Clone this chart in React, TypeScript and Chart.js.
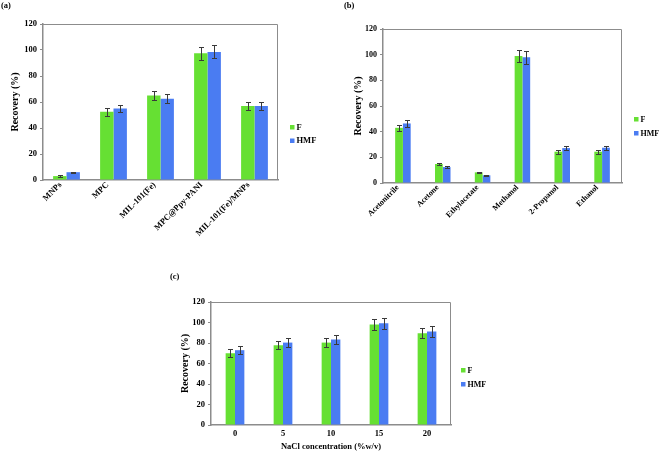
import React, { useEffect, useRef } from "react";
import { Chart, registerables } from "chart.js";
Chart.register(...registerables);

// ---------- data ----------
const catsA = ["MNPs", "MPC", "MIL-101(Fe)", "MPC@Ppy-PANI", "MIL-101(Fe)/MNPs"];
const fA = [3, 52.5, 65, 97.5, 57];
const hA = [6, 55, 62.5, 98.5, 57];
const fErrA = [0.5, 3, 3.5, 5, 3];
const hErrA = [0.5, 3, 3.5, 5, 3];

const catsB = ["Acetonitrile", "Acetone", "Ethylacetate", "Methanol", "2-Propanol", "Ethanol"];
const fB = [43, 14.8, 8.3, 99, 24.4, 24.4];
const hB = [46.4, 12.4, 6, 97.9, 27.2, 27.5];
const fErrB = [2.3, 1, 0.5, 5, 1.5, 1.5];
const hErrB = [2.6, 0.8, 0.4, 5, 1.7, 1.7];

const catsC = ["0", "5", "10", "15", "20"];
const fC = [70, 77.8, 80.4, 98, 89.5];
const hC = [73, 80.4, 83.4, 99.3, 91.1];
const fErrC = [4, 4, 4.3, 5, 5];
const hErrC = [4, 4, 4, 5.5, 5];

const seriesNames = ["F", "HMF"];
const yMin = 0;
const yMax = 120;
const yStep = 20;
const yTitle = "Recovery (%)";
const xTitleC = "NaCl concentration (%w/v)";

// ---------- styles ----------
const GREEN = "#66e033";
const BLUE = "#4a7cf2";
const AXIS = "#8c8c8c";
const FONT = "'Liberation Serif', 'Times New Roman', serif";

const overlay = {
  id: "overlay",
  afterDatasetsDraw(chart: any, _args: any, opts: any) {
    const { ctx, chartArea: a } = chart;
    const y = chart.scales.y;
    ctx.save();
    // top & right frame
    ctx.strokeStyle = AXIS;
    ctx.lineWidth = 1;
    ctx.beginPath();
    ctx.moveTo(a.left, Math.round(a.top) + 0.5);
    ctx.lineTo(Math.round(a.right) - 0.5, Math.round(a.top) + 0.5);
    ctx.lineTo(Math.round(a.right) - 0.5, a.bottom);
    ctx.stroke();
    // error bars
    ctx.strokeStyle = "#3a3a3a";
    ctx.lineWidth = 1;
    chart.data.datasets.forEach((ds: any, i: number) => {
      const meta = chart.getDatasetMeta(i);
      const errs = opts.errors[i];
      meta.data.forEach((bar: any, j: number) => {
        const v = ds.data[j];
        const e = errs[j];
        const x = Math.round(bar.x) + 0.5;
        const yt = Math.round(y.getPixelForValue(v + e)) + 0.5;
        const yb = Math.round(y.getPixelForValue(v - e)) + 0.5;
        const c = opts.cap;
        ctx.beginPath();
        ctx.moveTo(x, yt);
        ctx.lineTo(x, yb);
        ctx.moveTo(x - c, yt);
        ctx.lineTo(x + c, yt);
        ctx.moveTo(x - c, yb);
        ctx.lineTo(x + c, yb);
        ctx.stroke();
      });
    });
    // legend
    ctx.font = `bold ${opts.legendFont}px ${FONT}`;
    ctx.textBaseline = "middle";
    ctx.textAlign = "left";
    chart.data.datasets.forEach((ds: any, i: number) => {
      const ly = opts.legendY + i * opts.legendGap;
      ctx.fillStyle = ds.backgroundColor;
      ctx.fillRect(opts.legendX, ly - 2, 4.5, 4.5);
      ctx.fillStyle = "#000";
      ctx.fillText(ds.label, opts.legendX + 6.5, ly + 0.5);
    });
    // panel label
    ctx.font = `bold 8.5px ${FONT}`;
    ctx.fillText(opts.panel, opts.panelX, opts.panelY);
    ctx.restore();
  },
};

type Spec = {
  x: number; y: number; w: number; h: number;
  left: number; right: number; top: number; bottom: number;
  cats: string[]; f: number[]; hm: number[]; fe: number[]; he: number[];
  catPct: number; rot: number; xTickFont: number; yTickFont: number; xPad: number; xShift: number;
  yTitleFont: number; xTitleFont: number; yTitlePad: number;
  xTitle?: string; legendX: number; legendY: number; legendGap: number; legendFont: number;
  panel: string; panelX: number; panelY: number;
};

function makeConfig(s: Spec): any {
  return {
    type: "bar",
    data: {
      labels: s.cats,
      datasets: [
        { label: seriesNames[0], data: s.f, backgroundColor: GREEN, categoryPercentage: s.catPct, barPercentage: 1 },
        { label: seriesNames[1], data: s.hm, backgroundColor: BLUE, categoryPercentage: s.catPct, barPercentage: 1 },
      ],
    },
    options: {
      responsive: false,
      animation: false,
      devicePixelRatio: 1,
      layout: { padding: { left: 0, top: s.top, right: s.w - s.right, bottom: 0 } },
      plugins: {
        legend: { display: false },
        tooltip: { enabled: false },
        overlay: {
          errors: [s.fe, s.he], cap: 2.5,
          legendX: s.legendX, legendY: s.legendY, legendGap: s.legendGap, legendFont: s.legendFont,
          panel: s.panel, panelX: s.panelX, panelY: s.panelY,
        },
      },
      scales: {
        x: {
          grid: { display: false, drawTicks: false },
          border: { display: true, color: AXIS, width: 1.5 },
          ticks: {
            color: "#000", autoSkip: false, minRotation: s.rot, maxRotation: s.rot, padding: s.xPad,
            labelOffset: s.xShift,
            font: { family: FONT, size: s.xTickFont, weight: "bold" },
          },
          title: s.xTitle
            ? { display: true, text: s.xTitle, color: "#000", padding: { top: 0, bottom: 1 }, font: { family: FONT, size: s.xTitleFont, weight: "bold" } }
            : { display: false },
          afterFit: (sc: any) => { sc.height = s.h - s.bottom; },
        },
        y: {
          min: yMin, max: yMax,
          grid: { drawOnChartArea: false, drawTicks: true, tickLength: 3, color: AXIS },
          border: { display: true, color: AXIS, width: 1.5 },
          ticks: {
            stepSize: yStep, color: "#000", padding: 3,
            font: { family: FONT, size: s.yTickFont, weight: "bold" },
          },
          title: { display: true, text: yTitle, color: "#000", padding: { top: s.yTitlePad, bottom: 0 }, font: { family: FONT, size: s.yTitleFont, weight: "bold" } },
          afterFit: (sc: any) => { sc.width = s.left; },
        },
      },
    },
    plugins: [overlay],
  };
}

const specA: Spec = {
  x: 0, y: 0, w: 330, h: 250, left: 43, right: 278, top: 24, bottom: 180,
  cats: catsA, f: fA, hm: hA, fe: fErrA, he: hErrA,
  catPct: 0.57, rot: 45, xTickFont: 8.5, yTickFont: 8.5, xPad: 0, xShift: -6,
  yTitleFont: 10, xTitleFont: 10, yTitlePad: 9,
  legendX: 290, legendY: 127, legendGap: 13.5, legendFont: 8.5, panel: "(a)", panelX: 1, panelY: 6,
};
const specB: Spec = {
  x: 330, y: 0, w: 331, h: 250, left: 53, right: 292, top: 29, bottom: 183,
  cats: catsB, f: fB, hm: hB, fe: fErrB, he: hErrB,
  catPct: 0.39, rot: 45, xTickFont: 8, yTickFont: 8, xPad: 0, xShift: -5,
  yTitleFont: 10, xTitleFont: 10, yTitlePad: 22,
  legendX: 304, legendY: 119, legendGap: 14, legendFont: 8, panel: "(b)", panelX: 14, panelY: 6,
};
const specC: Spec = {
  x: 150, y: 235, w: 360, h: 218, left: 61, right: 301, top: 67, bottom: 190,
  cats: catsC, f: fC, hm: hC, fe: fErrC, he: hErrC,
  catPct: 0.39, rot: 0, xTickFont: 8.5, yTickFont: 8.5, xPad: 4, xShift: 0,
  yTitleFont: 10, xTitleFont: 8.5, yTitlePad: 29, xTitle: xTitleC,
  legendX: 311, legendY: 135, legendGap: 14, legendFont: 8, panel: "(c)", panelX: 20, panelY: 42,
};

function Panel({ spec }: { spec: Spec }) {
  const ref = useRef<HTMLCanvasElement | null>(null);
  useEffect(() => {
    if (!ref.current) return;
    const chart = new Chart(ref.current, makeConfig(spec));
    return () => chart.destroy();
  }, [spec]);
  return (
    <canvas
      ref={ref}
      width={spec.w}
      height={spec.h}
      style={{ position: "absolute", left: spec.x, top: spec.y, width: spec.w, height: spec.h }}
    />
  );
}

export default function App() {
  return (
    <div style={{ position: "fixed", left: 0, top: 0, width: 661, height: 453, background: "#fff", overflow: "hidden" }}>
      <Panel spec={specA} />
      <Panel spec={specB} />
      <Panel spec={specC} />
    </div>
  );
}
